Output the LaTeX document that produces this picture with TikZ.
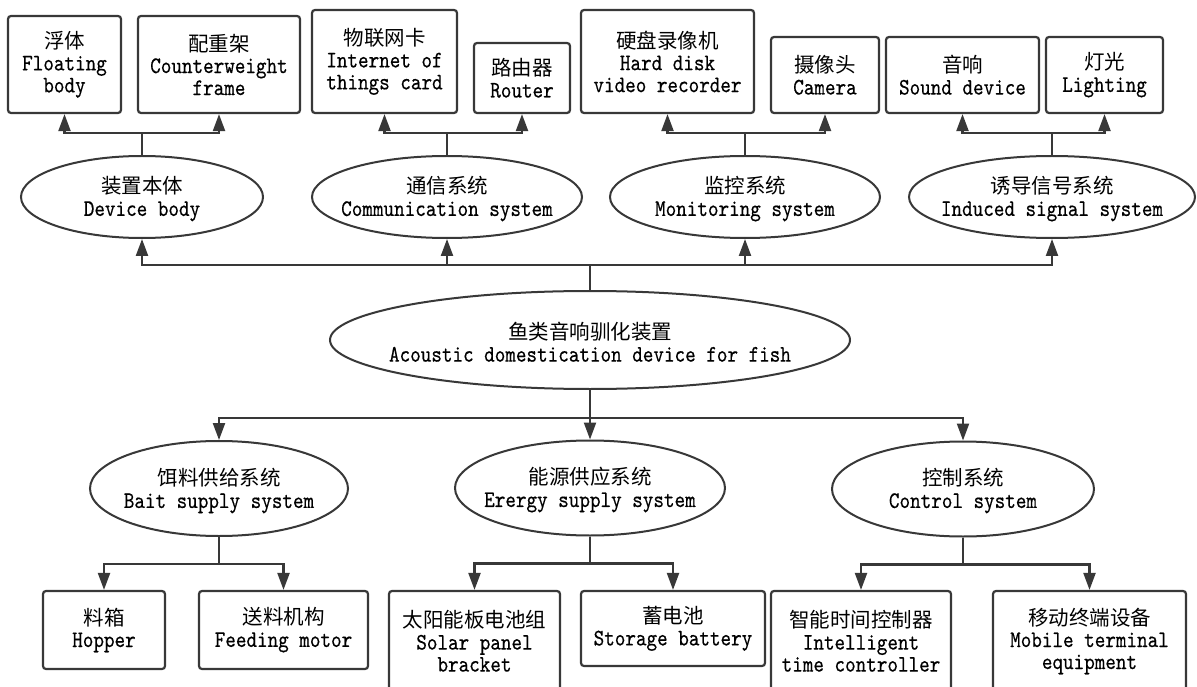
\documentclass[tikz,border=0pt]{standalone}
\usepackage{fontspec}
\newfontfamily\zhf{Noto Sans CJK SC}
\newfontfamily\enf[Extension=.otf,FakeStretch=0.85,FakeBold=0.4]{lmmono10-regular}
\usetikzlibrary{shapes.geometric,arrows.meta}
\definecolor{ln}{HTML}{383838}
\newcommand\ZH[1]{{\zhf\fontsize{20.5}{22}\selectfont #1}}
\newcommand\EN[1]{{\enf\fontsize{23.7}{22}\selectfont #1}}
\tikzset{
  box/.style={draw=ln, line width=2.2pt, rounded corners=3pt, inner sep=0pt, align=center, font=\fontsize{20}{22}\selectfont},
  ell/.style={draw=ln, line width=2pt, ellipse, inner sep=0pt},
  txt/.style={align=center, inner sep=0pt, font=\fontsize{20}{22}\selectfont},
  arr/.style={draw=ln, line width=2.2pt, -{Triangle[length=17pt 0,width=12pt 0]}},
}
\begin{document}
\begin{tikzpicture}[x=1pt,y=-1pt]
\clip (0,0) rectangle (1197,687);
\fill[white] (0,0) rectangle (1197,687);
% top boxes
\node[box, minimum width=113pt, minimum height=97pt] (float) at (64.5,64.5) {\ZH{浮体}\\\EN{Floating}\\\EN{body}};
\node[box, minimum width=162pt, minimum height=97pt] (cw) at (219,64.5) {\ZH{配重架}\\\EN{Counterweight}\\\EN{frame}};
\node[box, minimum width=145pt, minimum height=103pt] (iot) at (384.5,61.5) {\ZH{物联网卡}\\\EN{Internet of}\\\EN{things card}};
\node[box, minimum width=96pt, minimum height=70pt] (router) at (522,78) {\ZH{路由器}\\\EN{Router}};
\node[box, minimum width=173pt, minimum height=103pt] (hdd) at (667.5,61.5) {\ZH{硬盘录像机}\\\EN{Hard disk}\\\EN{video recorder}};
\node[box, minimum width=108pt, minimum height=76pt] (cam) at (825,75) {\ZH{摄像头}\\\EN{Camera}};
\node[box, minimum width=153pt, minimum height=76pt] (sound) at (962.5,75) {\ZH{音响}\\\EN{Sound device}};
\node[box, minimum width=117pt, minimum height=76pt] (light) at (1104.5,75) {\ZH{灯光}\\\EN{Lighting}};
% top ellipses
\node[ell, minimum width=242pt, minimum height=82pt] (dev) at (142,197) {};
\node[txt] (devt) at (142,199) {\ZH{装置本体}\\\EN{Device body}};
\node[ell, minimum width=270pt, minimum height=82pt] (com) at (447,197) {};
\node[txt] (comt) at (447,199) {\ZH{通信系统}\\\EN{Communication system}};
\node[ell, minimum width=270pt, minimum height=82pt] (mon) at (745,197) {};
\node[txt] (mont) at (745,199) {\ZH{监控系统}\\\EN{Monitoring system}};
\node[ell, minimum width=286pt, minimum height=82pt] (ind) at (1052,197) {};
\node[txt] (indt) at (1052,199) {\ZH{诱导信号系统}\\\EN{Induced signal system}};
% main
\node[ell, minimum width=520pt, minimum height=98pt] (main) at (590,340) {};
\node[txt] (maint) at (590,342) {\ZH{鱼类音响驯化装置}\\\EN{Acoustic domestication device for fish}};
% bottom ellipses
\node[ell, minimum width=258pt, minimum height=95pt] (bait) at (219,488.5) {};
\node[txt] (baitt) at (219,491) {\ZH{饵料供给系统}\\\EN{Bait supply system}};
\node[ell, minimum width=270pt, minimum height=95pt] (energy) at (590,488) {};
\node[txt] (energyt) at (590,490) {\ZH{能源供应系统}\\\EN{Erergy supply system}};
\node[ell, minimum width=262pt, minimum height=95pt] (ctrl) at (963,489) {};
\node[txt] (ctrlt) at (963,491) {\ZH{控制系统}\\\EN{Control system}};
% bottom boxes
\node[box, minimum width=122pt, minimum height=78pt] (hopper) at (104,630) {\ZH{料箱}\\\EN{Hopper}};
\node[box, minimum width=169pt, minimum height=78pt] (feed) at (283.5,630) {\ZH{送料机构}\\\EN{Feeding motor}};
\node[box, minimum width=171pt, minimum height=100pt] (solar) at (474.5,641) {\ZH{太阳能板电池组}\\\EN{Solar panel}\\\EN{bracket}};
\node[box, minimum width=184pt, minimum height=75pt] (battery) at (673,628.5) {\ZH{蓄电池}\\\EN{Storage battery}};
\node[box, minimum width=180pt, minimum height=100pt] (timer) at (861,641) {\ZH{智能时间控制器}\\\EN{Intelligent}\\\EN{time controller}};
\node[box, minimum width=193pt, minimum height=100pt] (mobile) at (1089.5,641) {\ZH{移动终端设备}\\\EN{Mobile terminal}\\\EN{equipment}};
% connectors top
\draw[arr] (dev.north) -- ++(0,-22) -| (float.south);
\draw[arr] (dev.north) -- ++(0,-22) -| (cw.south);
\draw[arr] (com.north) -- ++(0,-22) -| (iot.south);
\draw[arr] (com.north) -- ++(0,-22) -| (router.south);
\draw[arr] (mon.north) -- ++(0,-22) -| (hdd.south);
\draw[arr] (mon.north) -- ++(0,-22) -| (cam.south);
\draw[arr] (ind.north) -- ++(0,-22) -| (sound.south);
\draw[arr] (ind.north) -- ++(0,-22) -| (light.south);
\draw[arr] (main.north) -- ++(0,-25) -| (dev.south);
\draw[arr] (main.north) -- ++(0,-25) -| (com.south);
\draw[arr] (main.north) -- ++(0,-25) -| (mon.south);
\draw[arr] (main.north) -- ++(0,-25) -| (ind.south);
% connectors bottom
\draw[arr] (main.south) -- ++(0,28) -| (bait.north);
\draw[arr] (main.south) -- (energy.north);
\draw[arr] (main.south) -- ++(0,28) -| (ctrl.north);
\draw[arr] (bait.south) -- ++(0,27) -| (hopper.north);
\draw[arr] (bait.south) -- ++(0,27) -| (feed.north);
\draw[arr] (energy.south) -- ++(0,27) -| (solar.north);
\draw[arr] (energy.south) -- ++(0,27) -| (battery.north);
\draw[arr] (ctrl.south) -- ++(0,27) -| (timer.north);
\draw[arr] (ctrl.south) -- ++(0,27) -| (mobile.north);
\end{tikzpicture}
\end{document}
